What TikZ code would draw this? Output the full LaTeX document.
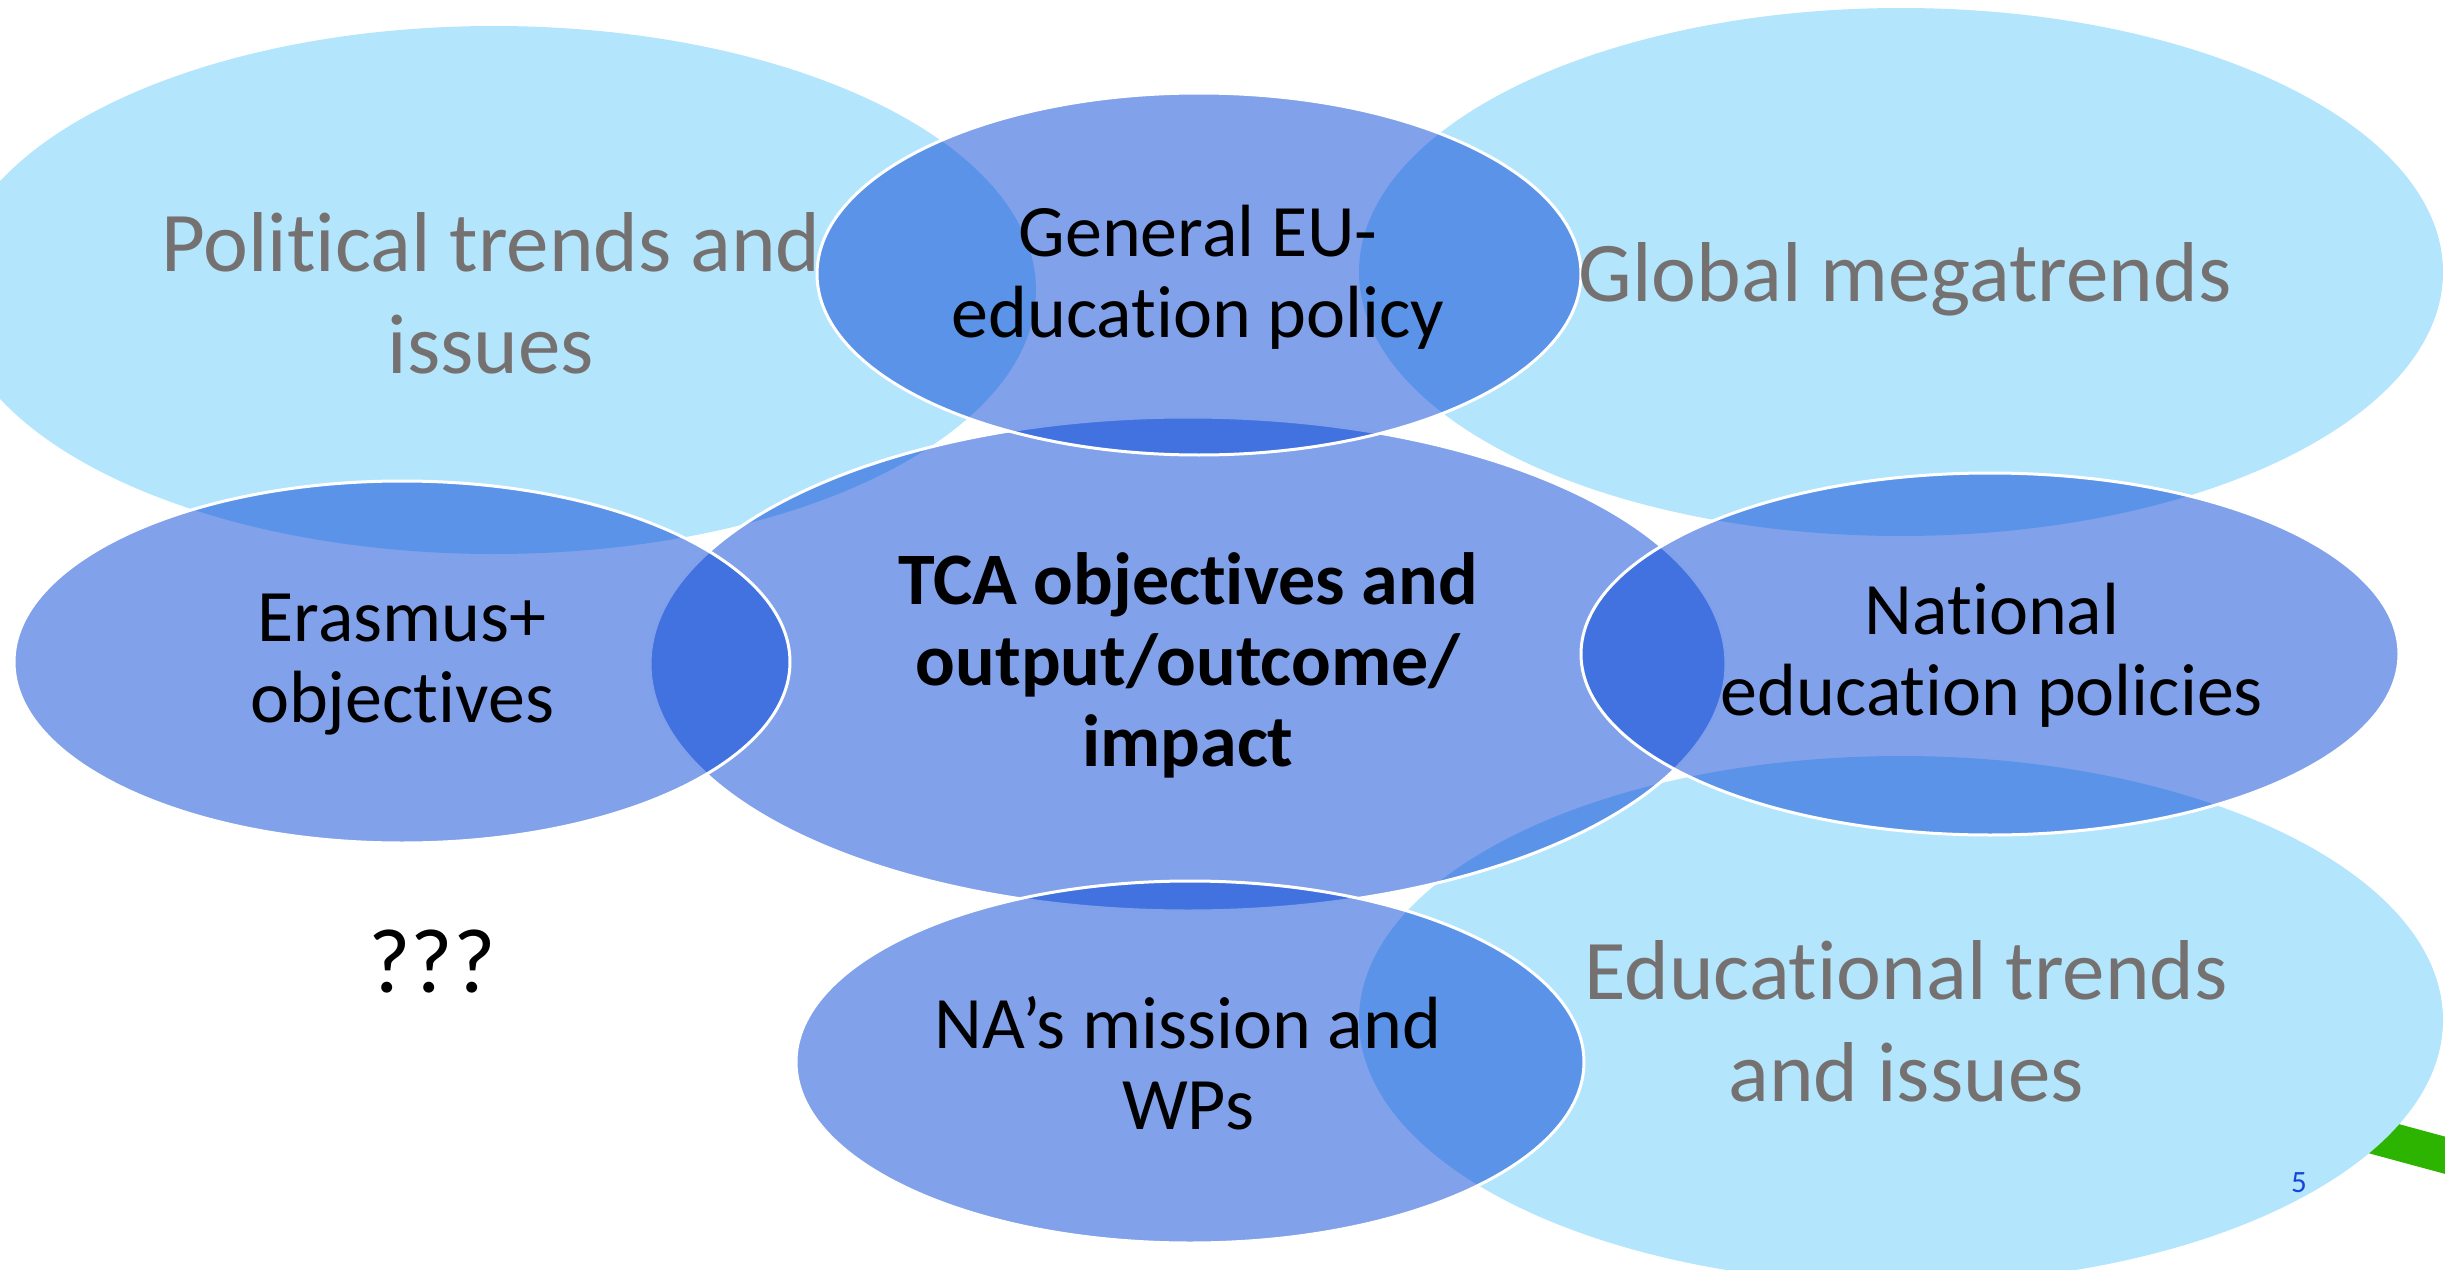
\documentclass[tikz,border=0pt]{standalone}
\usepackage{fontspec}
\setmainfont{Carlito}[Ligatures={NoCommon}]
\usetikzlibrary{shapes.geometric}
\definecolor{lightb}{RGB}{179,229,252}
\definecolor{medb}{RGB}{7,70,214}
\definecolor{graytxt}{RGB}{118,113,113}
\definecolor{pgnum}{RGB}{20,70,220}
\definecolor{swoosh}{RGB}{45,180,0}
\begin{document}
\begin{tikzpicture}[x=0.3pt,y=-0.3pt,
  outerell/.style={ellipse, fill=lightb, draw=none, inner sep=0pt,
    minimum width=325.2pt, minimum height=158.4pt},
  innerell/.style={ellipse, fill=medb, fill opacity=0.51, draw=white, draw opacity=1,
    line width=0.9pt, inner sep=0pt, minimum height=108.6pt},
  bigtxt/.style={text=graytxt, align=center, inner sep=0pt,
    font=\fontsize{25.5pt}{30.6pt}\selectfont},
  medtxt/.style={text=black, align=center, inner sep=0pt,
    font=\fontsize{22.2pt}{24.3pt}\selectfont},
  boldtxt/.style={text=black, align=center, inner sep=0pt,
    font=\fontsize{22.2pt}{24.3pt}\selectfont\bfseries}]
\useasboundingbox (0,0) rectangle (2445,1270);
% green swoosh behind
\draw[swoosh, line width=10.8pt] (2300,1116) -- (2470,1162);
% light ellipses
\node[outerell] (pol) at (494,290) {};
\node[outerell] (glob) at (1901,272) {};
\node[outerell] (edu) at (1901,1020) {};
% medium ellipses
\node[innerell, minimum width=322.8pt, minimum height=148.2pt] (tca) at (1188,664) {};
\node[innerell, minimum width=229.2pt] (gen) at (1199,274) {};
\node[innerell, minimum width=232.8pt] (eras) at (402,662) {};
\node[innerell, minimum width=245.4pt] (nat) at (1990,654) {};
\node[innerell, minimum width=236.4pt] (na) at (1190,1062) {};
% texts
\node[bigtxt] (poltxt) at (491,293) {Political trends and\\issues};
\node[bigtxt] (globtxt) at (1905,279) {Global megatrends};
\node[bigtxt] (edutxt) at (1906,1021) {Educational trends\\and issues};
\node[medtxt] (gentxt) at (1198,277) {General EU-\\education policy};
\node[boldtxt] (tcatxt) at (1188,665) {TCA objectives and\\output/outcome/\\impact};
\node[medtxt] (erastxt) at (402,665) {Erasmus+\\objectives};
\node[medtxt] (nattxt) at (1992,655) {National\\education policies};
\node[medtxt] (natxt) at (1188,1063) {NA’s mission and\\WPs};
\node[text=black, inner sep=0pt, font=\fontsize{27.5pt}{30pt}\selectfont] (qqq) at (432,961) {???};
\node[text=pgnum, inner sep=0pt, font=\fontsize{9.3pt}{11pt}\selectfont] (pg) at (2299,1183) {5};
\end{tikzpicture}
\end{document}
